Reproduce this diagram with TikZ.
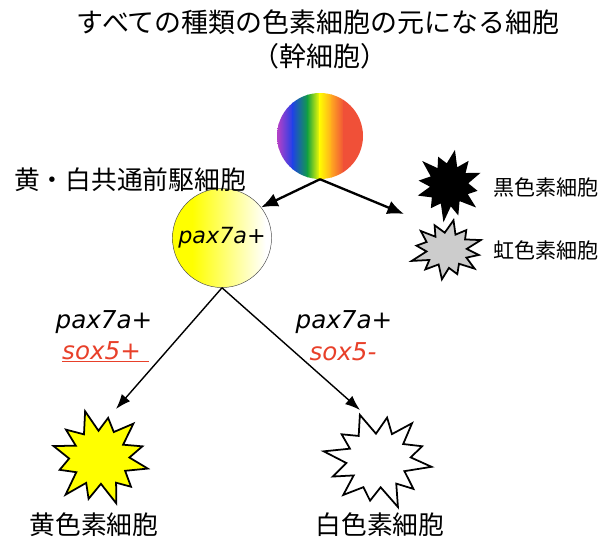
\documentclass[tikz,border=0pt]{standalone}
\usepackage{fontspec}
\newfontfamily\jpfont{Noto Sans CJK JP}
\newfontfamily\genefont{DejaVu Sans}
\usetikzlibrary{arrows.meta}

\definecolor{rbpurple}{HTML}{B040C8}
\definecolor{rbblue}{HTML}{2040E8}
\definecolor{rbgreen}{HTML}{10A040}
\definecolor{rbyellow}{HTML}{FFFF00}
\definecolor{rborange}{HTML}{FFA820}
\definecolor{rbred}{HTML}{F05038}
\definecolor{genered}{HTML}{E8402A}

\pgfdeclarehorizontalshading{yellowfade}{100bp}{color(0bp)=(rbyellow); color(35bp)=(rbyellow);
  color(72bp)=(white); color(100bp)=(white)}

\tikzset{
  jp/.style={font=\jpfont\fontsize{#1}{#1}\selectfont},
  gene/.style={font=\genefont\itshape\fontsize{#1}{#1}\selectfont},
  cell/.style={draw=black, line width=1.5pt},
  % irregular 12-point burst of unit radius
  burst/.pic={
    \draw[pic actions] (0:1) \foreach \a/\r in {15/0.58, 31/0.88, 45/0.62, 58/1.02, 75/0.55,
      92/0.9, 105/0.6, 119/1.05, 135/0.57, 150/0.86, 166/0.63, 182/0.98, 195/0.56, 208/0.92,
      224/0.6, 240/1.04, 254/0.58, 268/0.87, 284/0.62, 300/1.0, 316/0.55, 331/0.9, 346/0.6}
      {-- (\a:\r)} -- cycle;
  },
}

\begin{document}
\begin{tikzpicture}[x=0.3mm, y=-0.3mm]
  \useasboundingbox (0,0) rectangle (598,543);
  \node[jp=23] (title) at (318,22) {すべての種類の色素細胞の元になる細胞};
  \node[jp=23] (subtitle) at (320,56) {（幹細胞）};

  % stem cell: rainbow strips clipped to the circle
  \node[circle, minimum size=25.8mm] (stem) at (320,136) {};
  \begin{scope}
    \clip (stem.center) circle (43);
    \shade[left color=rbpurple, right color=rbpurple] (276,90) rectangle (279,182);
    \shade[left color=rbpurple, right color=rbblue] (278,90) rectangle (293,182);
    \shade[left color=rbblue, right color=rbgreen] (292,90) rectangle (308,182);
    \shade[left color=rbgreen, right color=rbyellow] (307,90) rectangle (320,182);
    \shade[left color=rbyellow, right color=rborange] (319,90) rectangle (332,182);
    \shade[left color=rborange, right color=rbred] (331,90) rectangle (344,182);
    \fill[rbred] (343,90) rectangle (364,182);
  \end{scope}

  % common precursor
  \node[circle, minimum size=27mm, draw=gray!60!black, shading=yellowfade, gene=19] (prec) at (222,238) {pax7a+};
  \node[jp=22] at (130,180) {黄・白共通前駆細胞};

  % melanophore / iridophore
  \coordinate (mela) at (449,185);
  \coordinate (irid) at (447,250);
  \pic[cell, fill=black, xscale=31, yscale=33, rotate=20] at (mela) {burst};
  \pic[cell, fill=gray!40, xscale=36, yscale=29, rotate=-40] at (irid) {burst};
  \node[jp=18, anchor=west] at (489,187) {黒色素細胞};
  \node[jp=18, anchor=west] at (489,250) {虹色素細胞};

  % xanthophore / leucophore
  \coordinate (xanth) at (100,458);
  \coordinate (leuco) at (378,460);
  \pic[cell, fill=rbyellow, xscale=49, yscale=47, rotate=-13] at (xanth) {burst};
  \pic[cell, fill=white, xscale=53, yscale=48, rotate=50] at (leuco) {burst};
  \node[jp=22] at (94,525) {黄色素細胞};
  \node[jp=22] at (380,525) {白色素細胞};

  \node[gene=21] at (104,322) {pax7a+};
  \node[gene=21, text=genered, anchor=west, inner sep=0pt] at (62,352) {\underline{sox5+\ }};
  \node[gene=21] at (344,322) {pax7a+};
  \node[gene=21, text=genered] at (343,352) {sox5-};

  \coordinate (fork) at (404,214);
  \coordinate (xtip) at (116,409);
  \coordinate (ltip) at (360,410);
  \draw[-{Latex[length=5mm,width=4.2mm]}, line width=2pt] (stem.south) -- (prec.38);
  \draw[-{Latex[length=5mm,width=4.2mm]}, line width=2pt] (stem.south) -- (fork);
  \draw[-{Latex[length=4.5mm,width=3.3mm]}, line width=1.2pt] (prec.south) -- (xtip);
  \draw[-{Latex[length=4.5mm,width=3.3mm]}, line width=1.2pt] (prec.south) -- (ltip);
\end{tikzpicture}
\end{document}
